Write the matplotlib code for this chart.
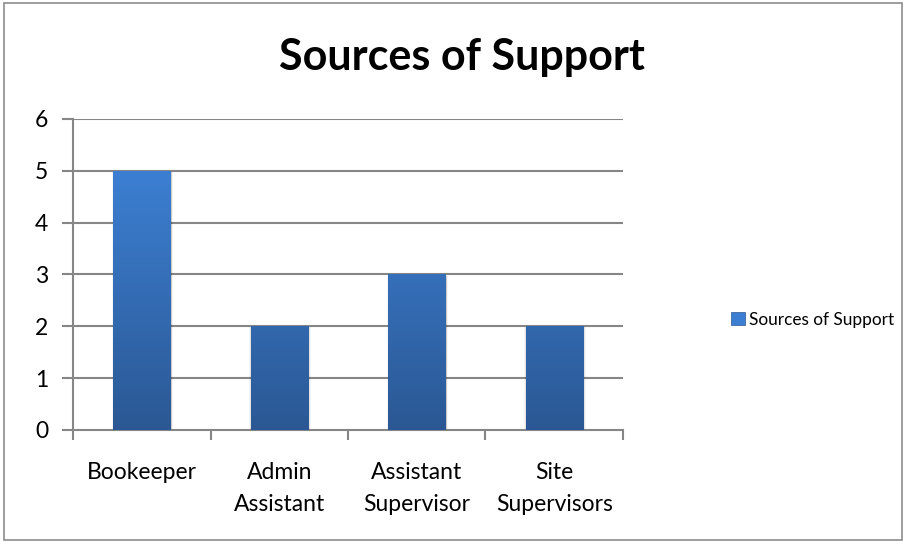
import numpy as np
import matplotlib
matplotlib.use("Agg")
import matplotlib.pyplot as plt
from matplotlib.colors import LinearSegmentedColormap
from matplotlib.patches import Rectangle

plt.rcParams['font.family'] = ['Lato', 'DejaVu Sans']

categories = ["Bookeeper", "Admin\nAssistant", "Assistant\nSupervisor", "Site\nSupervisors"]
values = [5, 2, 3, 2]
series_name = "Sources of Support"
yticks = [0, 1, 2, 3, 4, 5, 6]

grid_col = "#868686"
top_col = "#3c7fd2"
bot_col = "#2b5894"
grad = LinearSegmentedColormap.from_list("bar", [bot_col, top_col])

fig = plt.figure(figsize=(9.06, 5.44), dpi=100)
fig.patches.append(Rectangle((0.004, 0.007), 0.992, 0.987, transform=fig.transFigure,
                             fill=False, edgecolor="#8c8c8c", linewidth=1.2))

ax = fig.add_axes([0.0806, 0.2096, 0.607, 0.5717])
x = np.arange(len(categories))
width = 0.415

# soft shadow behind bars
for xi, v in zip(x, values):
    for k, a in enumerate([0.10, 0.07, 0.04]):
        ax.add_patch(Rectangle((xi - width / 2 - 0.005 * k, 0), width + 0.01 * (k + 1),
                               v - 0.02, facecolor="black", alpha=a, edgecolor="none",
                               zorder=2))

bars = ax.bar(x, values, width=width, color=top_col, zorder=3)

# vertical gradient fill
g = np.linspace(0, 1, 256).reshape(-1, 1)
for b in bars:
    bx = b.get_x()
    im = ax.imshow(g, cmap=grad, aspect="auto", origin="lower",
                   extent=[bx, bx + b.get_width(), 0, max(values)],
                   zorder=4, interpolation="bilinear")
    im.set_clip_path(b)

ax.set_xlim(-0.5, len(categories) - 0.5)
ax.set_ylim(0, 6)
ax.set_yticks(yticks)
ax.set_yticklabels([str(t) for t in yticks])
for t in yticks[1:]:
    ax.axhline(t, color=grid_col, linewidth=1.5, zorder=1)

for s in ["top", "right"]:
    ax.spines[s].set_visible(False)
for s in ["left", "bottom"]:
    ax.spines[s].set_color(grid_col)
    ax.spines[s].set_linewidth(1.5)

# category labels between boundary ticks
ax.set_xticks(np.arange(-0.5, len(categories), 1.0))
ax.set_xticklabels([])
ax.set_xticks(x, minor=True)
ax.set_xticklabels(categories, minor=True, fontsize=16.5, linespacing=1.65)
ax.tick_params(axis="x", which="major", length=7, color=grid_col, width=1.5, direction="out")
ax.tick_params(axis="x", which="minor", length=0, pad=23)
ax.tick_params(axis="y", length=8, color=grid_col, width=1.5, labelsize=16.5, pad=10)

fig.text(0.51, 0.896, "Sources of Support", ha="center", va="center",
         fontsize=31, fontweight="bold")

handle = Rectangle((0, 0), 1, 1, facecolor=top_col, edgecolor="#2b5894", linewidth=0.5)
fig.legend([handle], [series_name], loc="center left", bbox_to_anchor=(0.807, 0.412),
           frameon=False, fontsize=12.4, handlelength=0.8, handleheight=0.8,
           handletextpad=0.25, borderaxespad=0, borderpad=0)

fig.savefig("out.png", dpi=100)
